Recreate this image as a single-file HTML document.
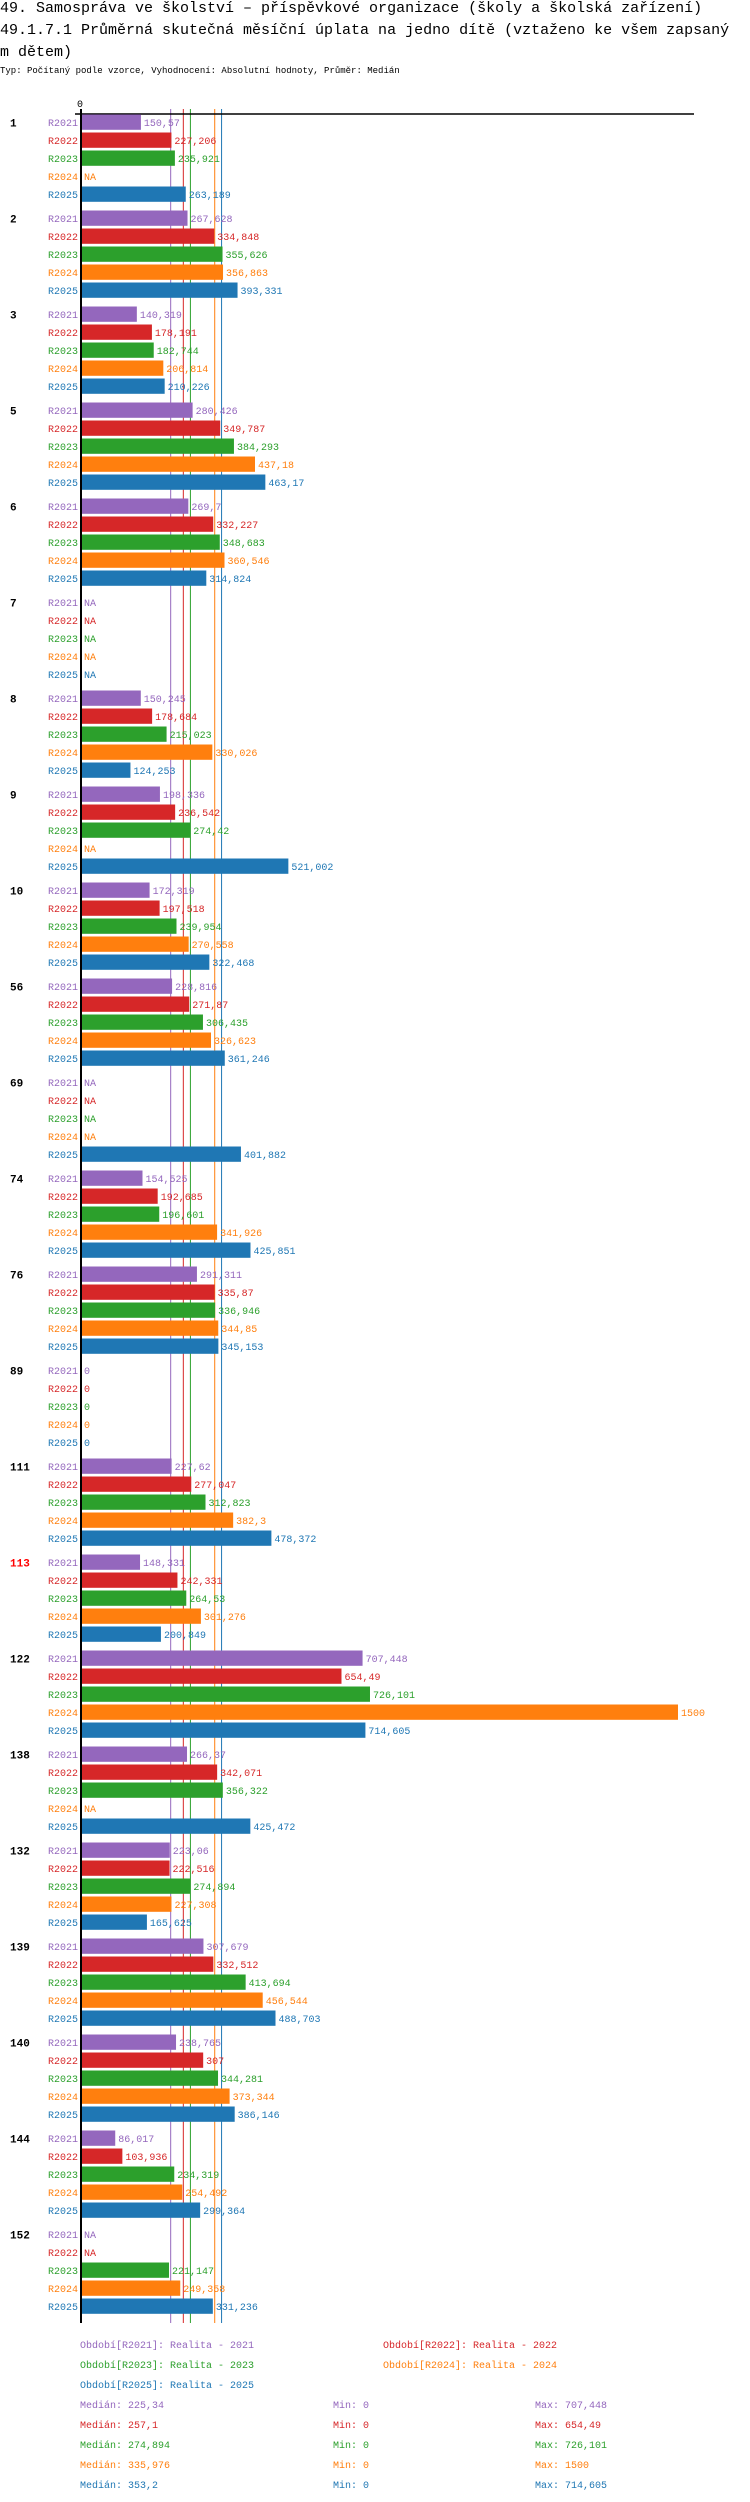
<!DOCTYPE html>
<html><head><meta charset="utf-8">
<style>
html,body{margin:0;padding:0;background:#fff;width:750px;height:2502px;overflow:hidden}
.t{font-family:"Liberation Mono",monospace;font-size:15px;line-height:22px;color:#000;white-space:nowrap;width:750px;position:absolute;left:0;top:-2px;margin:0}
.sub{position:absolute;left:0;top:66px;font-family:"Liberation Mono",monospace;font-size:9px;color:#000}
svg{position:absolute;left:0;top:0}
text{font-family:"Liberation Mono",monospace}
</style></head><body>
<div class="t">49. Samospráva ve školství – příspěvkové organizace (školy a školská zařízení)<br>49.1.7.1 Průměrná skutečná měsíční úplata na jedno dítě (vztaženo ke všem zapsaný<br>m dětem)</div>
<div class="sub">Typ: Počítaný podle vzorce, Vyhodnocení: Absolutní hodnoty, Průměr: Medián</div>
<svg id="chart" width="750" height="2502"></svg>
<script>
const groups = ["1","2","3","5","6","7","8","9","10","56","69","74","76","89","111","113","122","138","132","139","140","144","152"];
const series = ["R2021","R2022","R2023","R2024","R2025"];
const colors = ["#9467bd","#d62728","#2ca02c","#ff7f0e","#1f77b4"];
const v2021 = [150.57,267.628,140.319,280.426,269.7,null,150.245,198.336,172.319,228.816,null,154.525,291.311,0,227.62,148.331,707.448,266.37,223.06,307.679,238.765,86.017,null];
const v2022 = [227.206,334.848,178.191,349.787,332.227,null,178.684,236.542,197.518,271.87,null,192.685,335.87,0,277.047,242.331,654.49,342.071,222.516,332.512,307,103.936,null];
const v2023 = [235.921,355.626,182.744,384.293,348.683,null,215.023,274.42,239.954,306.435,null,196.601,336.946,0,312.823,264.53,726.101,356.322,274.894,413.694,344.281,234.319,221.147];
const v2024 = [null,356.863,206.814,437.18,360.546,null,330.026,null,270.558,326.623,null,341.926,344.85,0,382.3,301.276,1500,null,227.308,456.544,373.344,254.492,249.358];
const v2025 = [263.189,393.331,210.226,463.17,314.824,null,124.253,521.002,322.468,361.246,401.882,425.851,345.153,0,478.372,200.849,714.605,425.472,165.625,488.703,386.146,299.364,331.236];
const medians = [225.34,257.1,274.894,335.976,353.2];
const mins = [0,0,0,0,0];
const maxs = [707.448,654.49,726.101,1500,714.605];
const legendNames = ["Období[R2021]: Realita - 2021","Období[R2022]: Realita - 2022","Období[R2023]: Realita - 2023","Období[R2024]: Realita - 2024","Období[R2025]: Realita - 2025"];
const allVals = [v2021,v2022,v2023,v2024,v2025];

const svg = document.getElementById('chart');
const NS = 'http://www.w3.org/2000/svg';
const X0 = 81, SCALE = 0.398;
const x = v => X0 + v*SCALE;
const rowY = (g,s) => 114.5 + g*96 + s*18;
function mk(tag, attrs, txt){const e=document.createElementNS(NS,tag);for(const k in attrs)e.setAttribute(k,attrs[k]);if(txt!==undefined)e.textContent=txt;svg.appendChild(e);return e;}
const fmt = v => String(v).replace('.',',');

medians.forEach((m,i)=>{
  const l = mk('line',{x1:x(m),x2:x(m),y1:109,y2:2323,stroke:colors[i],'stroke-width':1});
  
  
});
const ax = mk('line',{x1:75,x2:694,y1:114,y2:114,stroke:'#000','stroke-width':1.5});


const ay = mk('line',{x1:81,x2:81,y1:109,y2:2323,stroke:'#000','stroke-width':2});


const z = mk('text',{x:80,y:107,'font-size':10,'text-anchor':'middle'},'0');



groups.forEach((g,gi)=>{
  const gl = mk('text',{x:10,y:rowY(gi,0)+12,'font-size':11,'font-weight':'bold',fill:g==='113'?'#ff0000':'#000'},g);
  
  
  series.forEach((s,si)=>{
    const y = rowY(gi,si);
    const sl = mk('text',{x:78,y:y+11.5,'font-size':10,'text-anchor':'end',fill:colors[si]},s);
    
    
    const v = allVals[si][gi];
    let tx = 84;
    if(v!==null && v>0){
      const b = mk('rect',{x:X0+1,y:y,width:x(v)-X0-1,height:15.3,fill:colors[si]});
      
      
      tx = x(v)+3;
    }
    const vl = mk('text',{x:tx,y:y+11.5,'font-size':10,fill:colors[si]},v===null?'NA':fmt(v));
    
    
  });
});

legendNames.forEach((n,i)=>{
  const lx = i%2===0?80:383, ly = 2348 + Math.floor(i/2)*20;
  const t = mk('text',{x:lx,y:ly,'font-size':10,fill:colors[i]},n);
  
  
});
medians.forEach((m,i)=>{
  const ly = 2408 + i*20;
  const a = mk('text',{x:80,y:ly,'font-size':10,fill:colors[i]},'Medián: '+fmt(m));
  
  
  const b = mk('text',{x:333,y:ly,'font-size':10,fill:colors[i]},'Min: '+fmt(mins[i]));
  
  
  const c = mk('text',{x:535,y:ly,'font-size':10,fill:colors[i]},'Max: '+fmt(maxs[i]));
  
  
});
</script>
</body></html>
